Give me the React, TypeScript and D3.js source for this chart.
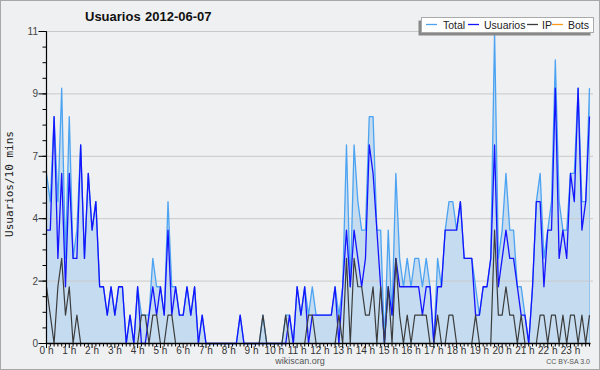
import React from 'react';
import * as d3 from 'd3';

// Values per 10-minute slot (144 slots, 0:00 .. 23:50)
const total = [
  6, 5, 8, 5, 9, 3, 8, 3, 4, 7, 3, 6, 4, 5, 2, 2, 1, 2, 1, 2, 2, 0, 1, 0,
  2, 1, 1, 1, 3, 2, 2, 1, 5, 2, 2, 1, 1, 2, 1, 2, 0, 1, 0, 0, 0, 0, 0, 0,
  0, 0, 0, 1, 0, 0, 0, 0, 0, 1, 0, 0, 0, 0, 0, 1, 1, 0, 2, 1, 2, 1, 2, 1,
  1, 1, 1, 1, 2, 1, 2, 7, 2, 7, 5, 4, 4, 8, 8, 4, 4, 0, 4, 1, 6, 3, 2, 3,
  2, 3, 3, 2, 3, 2, 0, 3, 2, 4, 5, 5, 4, 5, 3, 3, 3, 2, 1, 2, 2, 3, 11, 3,
  4, 6, 4, 4, 2, 2, 1, 0, 2, 5, 6, 3, 4, 5, 10, 5, 4, 4, 6, 6, 9, 5, 5, 9,
];
const usuarios = [
  4, 4, 8, 3, 6, 2, 6, 3, 3, 7, 3, 6, 4, 5, 2, 2, 1, 2, 1, 2, 2, 0, 1, 0,
  2, 0, 0, 1, 2, 1, 2, 1, 4, 1, 2, 1, 1, 2, 1, 2, 0, 1, 0, 0, 0, 0, 0, 0,
  0, 0, 0, 1, 0, 0, 0, 0, 0, 0, 0, 0, 0, 0, 0, 0, 1, 0, 2, 1, 2, 0, 1, 1,
  1, 1, 1, 1, 2, 0, 2, 4, 2, 4, 3, 2, 3, 7, 6, 4, 2, 0, 2, 1, 3, 2, 2, 2,
  2, 2, 2, 1, 2, 2, 0, 2, 2, 4, 4, 4, 4, 5, 3, 3, 3, 1, 1, 2, 2, 3, 7, 2,
  3, 4, 3, 3, 2, 1, 1, 0, 2, 5, 5, 2, 4, 4, 9, 3, 4, 3, 6, 5, 9, 4, 5, 8,
];
const ip = [
  2, 1, 0, 2, 3, 1, 2, 0, 1, 0, 0, 0, 0, 0, 0, 0, 0, 0, 0, 0, 0, 0, 0, 0,
  0, 1, 1, 0, 1, 1, 0, 0, 1, 1, 0, 0, 0, 0, 0, 0, 0, 0, 0, 0, 0, 0, 0, 0,
  0, 0, 0, 0, 0, 0, 0, 0, 0, 1, 0, 0, 0, 0, 0, 1, 0, 0, 0, 0, 0, 1, 1, 0,
  0, 0, 0, 0, 0, 1, 0, 3, 0, 3, 2, 2, 1, 1, 2, 0, 2, 0, 2, 0, 3, 1, 0, 1,
  0, 1, 1, 1, 1, 0, 0, 1, 0, 0, 1, 1, 0, 0, 0, 0, 0, 1, 0, 0, 0, 0, 4, 1,
  1, 2, 1, 1, 0, 1, 0, 0, 0, 0, 1, 1, 0, 1, 1, 0, 1, 0, 1, 1, 0, 1, 0, 1,
];
const bots = [
  0, 0, 0, 0, 0, 0, 0, 0, 0, 0, 0, 0, 0, 0, 0, 0, 0, 0, 0, 0, 0, 0, 0, 0,
  0, 0, 0, 0, 0, 0, 0, 0, 0, 0, 0, 0, 0, 0, 0, 0, 0, 0, 0, 0, 0, 0, 0, 0,
  0, 0, 0, 0, 0, 0, 0, 0, 0, 0, 0, 0, 0, 0, 0, 0, 0, 0, 0, 0, 0, 0, 0, 0,
  0, 0, 0, 0, 0, 0, 0, 0, 0, 0, 0, 0, 0, 0, 0, 0, 0, 0, 0, 0, 0, 0, 0, 0,
  0, 0, 0, 0, 0, 0, 0, 0, 0, 0, 0, 0, 0, 0, 0, 0, 0, 0, 0, 0, 0, 0, 0, 0,
  0, 0, 0, 0, 0, 0, 0, 0, 0, 0, 0, 0, 0, 0, 0, 0, 0, 0, 0, 0, 0, 0, 0, 0,
];

const hourLabels = [
  '0 h', '1 h', '2 h', '3 h', '4 h', '5 h', '6 h', '7 h', '8 h', '9 h', '10 h', '11 h',
  '12 h', '13 h', '14 h', '15 h', '16 h', '17 h', '18 h', '19 h', '20 h', '21 h', '22 h', '23 h',
];
const yTickLabels = ['0', '2', '4', '7', '9', '11'];
const yMax = 11;
const legendLabels = ['Total', 'Usuarios', 'IP', 'Bots'];
const titleText = 'Usuarios';
const dateText = '2012-06-07';
const yAxisTitle = 'Usuarios/10 mins';

const COLORS = {
  total: '#4ba3f2',
  usuarios: '#1414ff',
  ip: '#3c3c3c',
  bots: '#ff9a1a',
  fill: '#c5dcf0',
};

export default function App() {
  const W = 600;
  const H = 370;
  const n = total.length;
  const x = d3.scaleLinear().domain([0, n - 1]).range([46.5, 589.5]);
  const y = d3.scaleLinear().domain([0, yMax]).range([343.5, 31.5]);

  const lineGen = d3
    .line<number>()
    .x((_, i) => x(i))
    .y((d) => y(d));
  const areaGen = d3
    .area<number>()
    .x((_, i) => x(i))
    .y0(y(0))
    .y1((d) => y(d));

  const majorVals = yTickLabels.map((_, k) => (yMax * k) / (yTickLabels.length - 1));
  const minorVals = d3.range(0, 21).map((j) => (yMax * j) / 20);

  const legendColors = [COLORS.total, COLORS.usuarios, COLORS.ip, COLORS.bots];
  const legendLineX = [426, 468, 527, 552];
  const legendTextX = [443, 484, 542, 568];

  const font = "'Liberation Sans', Arial, sans-serif";

  return (
    <svg
      width={W}
      height={H}
      viewBox={`0 0 ${W} ${H}`}
      style={{ position: 'absolute', left: 0, top: 0, display: 'block' }}
    >
      <rect x={0.5} y={0.5} width={W - 1} height={H - 1} fill="#eff0f1" stroke="#a8a8a8" />

      {/* area fill */}
      <path d={areaGen(total) || ''} fill={COLORS.fill} stroke="none" />
      <line
        x1={x(n - 1)}
        x2={x(n - 1)}
        y1={y(total[n - 1])}
        y2={y(0)}
        stroke="#90c2ee"
        strokeWidth={1}
      />

      {/* gridlines */}
      {majorVals.slice(1).map((v, k) => (
        <line key={'g' + k} x1={46.5} x2={593} y1={y(v)} y2={y(v)} stroke="#c9c9cb" strokeWidth={1} />
      ))}

      {/* series lines */}
      <path d={lineGen(total) || ''} fill="none" stroke={COLORS.total} strokeWidth={1.3} strokeLinejoin="round" />
      <path d={lineGen(usuarios) || ''} fill="none" stroke={COLORS.usuarios} strokeWidth={1.3} strokeLinejoin="round" />
      <path d={lineGen(ip) || ''} fill="none" stroke={COLORS.ip} strokeWidth={1.2} strokeLinejoin="round" />
      <path d={lineGen(bots) || ''} fill="none" stroke={COLORS.bots} strokeWidth={1.2} />

      {/* y axis */}
      <line x1={46.5} x2={46.5} y1={31.5} y2={344} stroke="#000" strokeWidth={1.2} />
      {minorVals.map((v, j) => (
        <line key={'ym' + j} x1={42.5} x2={46.5} y1={y(v)} y2={y(v)} stroke="#000" strokeWidth={1} />
      ))}
      {majorVals.map((v, k) => (
        <g key={'yM' + k}>
          <line x1={38.5} x2={46.5} y1={y(v)} y2={y(v)} stroke="#000" strokeWidth={1} />
          <text
            x={38}
            y={y(v) + 3.5}
            textAnchor="end"
            fontFamily={font}
            fontSize={10}
            fill="#444"
          >
            {yTickLabels[k]}
          </text>
        </g>
      ))}

      {/* x axis */}
      <line x1={46} x2={590.5} y1={343.5} y2={343.5} stroke="#000" strokeWidth={1.3} />
      {d3.range(0, n).map((i) => (
        <line
          key={'xm' + i}
          x1={x(i)}
          x2={x(i)}
          y1={343.5}
          y2={i % 6 === 0 ? 348 : 346.5}
          stroke="#000"
          strokeWidth={1}
        />
      ))}
      {hourLabels.map((lab, h) => (
        <text
          key={'xl' + h}
          x={x(h * 6)}
          y={354}
          textAnchor="middle"
          fontFamily={font}
          fontSize={10}
          fill="#333"
        >
          {lab}
        </text>
      ))}

      {/* titles */}
      <text x={85} y={21} fontFamily={font} fontWeight="bold" fontSize={13} fill="#111">
        {titleText}
      </text>
      <text x={145} y={21} fontFamily={font} fontWeight="bold" fontSize={13} fill="#111">
        {dateText}
      </text>
      <text
        transform="translate(13,184) rotate(-90)"
        textAnchor="middle"
        fontFamily="'DejaVu Sans Mono', monospace"
        fontSize={11}
        fill="#222"
      >
        {yAxisTitle}
      </text>
      <text x={300} y={364} textAnchor="middle" fontFamily={font} fontSize={9} fill="#555">
        wikiscan.org
      </text>
      <text x={590} y={364} textAnchor="end" fontFamily={font} fontSize={7} fill="#555">
        CC BY-SA 3.0
      </text>

      {/* legend */}
      <rect x={418.5} y={20.5} width={172} height={15} fill="#888" />
      <rect x={421.5} y={17.5} width={172} height={15} fill="#fff" stroke="#aaa" />
      {legendLabels.map((lab, k) => (
        <g key={'lg' + k}>
          <line
            x1={legendLineX[k]}
            x2={legendLineX[k] + 11}
            y1={24.5}
            y2={24.5}
            stroke={legendColors[k]}
            strokeWidth={1.3}
          />
          <text x={legendTextX[k]} y={28.5} fontFamily={font} fontSize={10.5} fill="#222">
            {lab}
          </text>
        </g>
      ))}
    </svg>
  );
}
